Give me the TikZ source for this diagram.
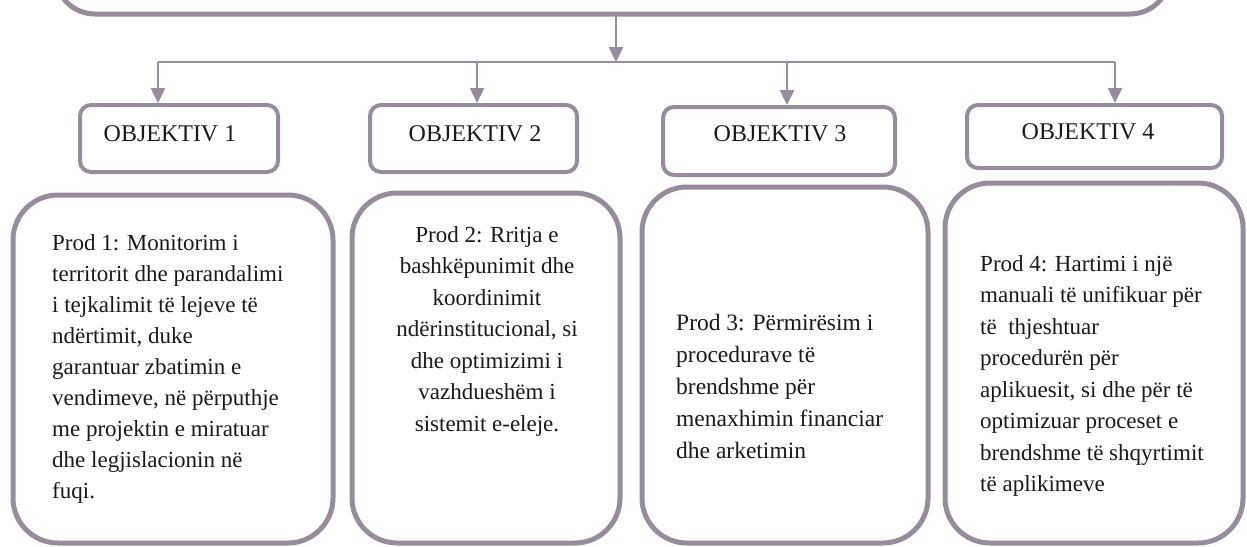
\documentclass[tikz,border=0pt]{standalone}
\usepackage{fontspec}
\setmainfont{Liberation Serif}
\usetikzlibrary{arrows.meta}
\definecolor{edge}{RGB}{150,140,156}
\definecolor{ink}{RGB}{25,25,25}
\begin{document}
\begin{tikzpicture}[x=1pt,y=-1pt,
  bigbox/.style={draw=edge,line width=5pt,rounded corners=#1},
  objbox/.style={draw=edge,line width=4pt,rounded corners=11pt,inner sep=0pt},
  conn/.style={draw=edge,line width=2.5pt},
  arr/.style={conn,-{Triangle[length=15pt,width=14pt]}},
  objtext/.style={text=ink,font=\fontsize{24}{31}\selectfont,inner sep=0pt},
  prodtext/.style={text=ink,font=\fontsize{23}{31.5}\selectfont,inner sep=0pt}]
\useasboundingbox (0,0) rectangle (1247,546);
% top box (cut by page top)
\draw[bigbox=40pt] (55,-120) rectangle (1170,14);
\coordinate (topmid) at (616,14);
\coordinate (hub) at (616,62);
\coordinate (b1) at (158,62);
\coordinate (b2) at (477,62);
\coordinate (b3) at (787,62);
\coordinate (b4) at (1115,62);
% objective boxes
\node[objbox,minimum width=198pt,minimum height=67pt] (o1) at (179,138.5) {};
\node[objbox,minimum width=207pt,minimum height=67pt] (o2) at (473.5,138.5) {};
\node[objbox,minimum width=232pt,minimum height=68pt] (o3) at (779,141) {};
\node[objbox,minimum width=255pt,minimum height=63pt] (o4) at (1094.5,136.5) {};
\node[objtext] at (170,134) {OBJEKTIV 1};
\node[objtext] at (475,134) {OBJEKTIV 2};
\node[objtext] at (780,134) {OBJEKTIV 3};
\node[objtext] at (1088,132) {OBJEKTIV 4};
% connectors
\draw[arr] (topmid) -- (hub);
\draw[conn] (b1) -- (b4);
\draw[arr] (b1) -- (b1 |- o1.north);
\draw[arr] (b2) -- (b2 |- o2.north);
\draw[arr] (b3) -- (b3 |- o3.north);
\draw[arr] (b4) -- (b4 |- o4.north);
% product boxes
\draw[bigbox=45pt] (13,195) rectangle (333,543);
\draw[bigbox=45pt] (352,193) rectangle (620,543);
\draw[bigbox=45pt] (642,187) rectangle (928,543);
\draw[bigbox=45pt] (945,183) rectangle (1243,543);
\node[prodtext,font=\fontsize{23}{31}\selectfont,anchor=north west,align=left] (t1) at (52,234) {Prod 1: Monitorim i\\territorit dhe parandalimi\\i tejkalimit të lejeve të\\ndërtimit, duke\\garantuar zbatimin e\\vendimeve, në përputhje\\me projektin e miratuar\\dhe legjislacionin në\\fuqi.};
\node[prodtext,anchor=north,align=center] (t2) at (487,226) {Prod 2: Rritja e\\bashkëpunimit dhe\\koordinimit\\ndërinstitucional, si\\dhe optimizimi i\\vazhdueshëm i\\sistemit e-eleje.};
\node[prodtext,font=\fontsize{23.5}{32}\selectfont,anchor=north west,align=left] (t3) at (676,314) {Prod 3: Përmirësim i\\procedurave të\\brendshme për\\menaxhimin financiar\\dhe arketimin};
\node[prodtext,anchor=north west,align=left] (t4) at (980,255) {Prod 4: Hartimi i një\\manuali të unifikuar për\\të\ \ thjeshtuar\\procedurën për\\aplikuesit, si dhe për të\\optimizuar proceset e\\brendshme të shqyrtimit\\të aplikimeve};
\end{tikzpicture}
\end{document}
